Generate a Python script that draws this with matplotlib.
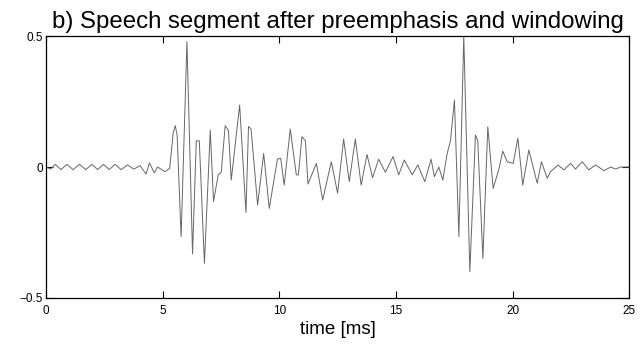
import matplotlib.pyplot as plt

plt.rcParams['font.family'] = ['Liberation Sans', 'DejaVu Sans']

# waveform: time [ms] and amplitude (peaks, troughs, shoulders)
t_ms = [0.0, 0.2, 0.39, 0.64, 0.89, 1.16, 1.43, 1.70, 1.96, 2.21, 2.46, 2.71,
        2.96, 3.22, 3.49, 3.76, 4.03, 4.29, 4.43, 4.64, 4.78, 5.1, 5.3,
        5.45, 5.54, 5.62, 5.79, 6.04, 6.28, 6.44, 6.57, 6.79, 7.04, 7.18,
        7.38, 7.51, 7.68, 7.82, 7.94, 8.30, 8.57, 8.68, 8.79, 9.07, 9.33,
        9.57, 9.92, 10.06, 10.21, 10.47, 10.73, 10.82, 10.97, 11.12, 11.23,
        11.59, 11.86, 12.23, 12.50, 12.76, 13.00, 13.26, 13.51, 13.76, 14.00,
        14.26, 14.55, 14.88, 15.12, 15.36, 15.70, 15.94, 16.24, 16.51, 16.65,
        16.84, 17.01, 17.20, 17.34, 17.51, 17.70, 17.91, 18.17, 18.41, 18.51,
        18.73, 18.94, 19.17, 19.41, 19.58, 19.77, 20.03, 20.23, 20.44, 20.70,
        21.06, 21.24, 21.49, 21.63, 21.95, 22.20, 22.49, 22.70, 22.99, 23.27,
        23.56, 23.92, 24.21, 24.42, 24.64, 25.0]
amp = [0.0, -0.008, 0.01, -0.01, 0.01, -0.01, 0.01, -0.01, 0.01, -0.01, 0.01, -0.01,
       0.01, -0.01, 0.008, -0.008, 0.005, -0.027, 0.016, -0.022, 0.0, -0.018, -0.005,
       0.13, 0.158, 0.12, -0.266, 0.479, -0.332, 0.10, 0.10, -0.368, 0.141, -0.132,
       -0.03, -0.02, 0.158, 0.14, -0.05, 0.237, -0.174, 0.155, 0.145, -0.145, 0.052,
       -0.158, 0.03, 0.033, -0.069, 0.145, -0.03, -0.03, 0.116, 0.10, -0.065,
       0.014, -0.126, 0.02, -0.10, 0.107, -0.056, 0.107, -0.069, 0.048, -0.041,
       0.03, -0.02, 0.04, -0.03, 0.027, -0.03, 0.008, -0.056, 0.03, -0.037,
       0.0, -0.05, 0.052, 0.1, 0.256, -0.266, 0.5, -0.40, 0.122, 0.10,
       -0.349, 0.154, -0.082, -0.01, 0.061, 0.02, 0.014, 0.11, -0.069, 0.065,
       -0.062, 0.02, -0.043, -0.018, 0.008, -0.011, 0.014, -0.008, 0.02, -0.011,
       0.008, -0.014, 0.0, -0.008, 0.0, 0.0]

x_ticks = [0, 5, 10, 15, 20, 25]
y_ticks = [-0.5, 0, 0.5]
y_labels = ['\u22120.5', '0', '0.5']

fig = plt.figure(figsize=(6.4, 3.44), dpi=100)
ax = fig.add_axes([0.072, 0.134, 0.911, 0.761])

ax.plot(t_ms, amp, color='#666666', linewidth=0.7)

ax.set_xlim(0, 25)
ax.set_ylim(-0.5, 0.5)
ax.set_xticks(x_ticks)
ax.set_yticks(y_ticks)
ax.set_yticklabels(y_labels)
ax.tick_params(direction='in', length=5, width=0.8, labelsize=8.5,
               top=True, right=True)
ax.tick_params(axis='x', pad=5)
ax.tick_params(axis='y', pad=2)
for s in ax.spines.values():
    s.set_linewidth(0.9)

ax.set_xlabel('time [ms]', fontsize=13.5, labelpad=3)
ax.set_title('b) Speech segment after preemphasis and windowing', fontsize=17.3, pad=6)

plt.savefig('out.png', dpi=100)
